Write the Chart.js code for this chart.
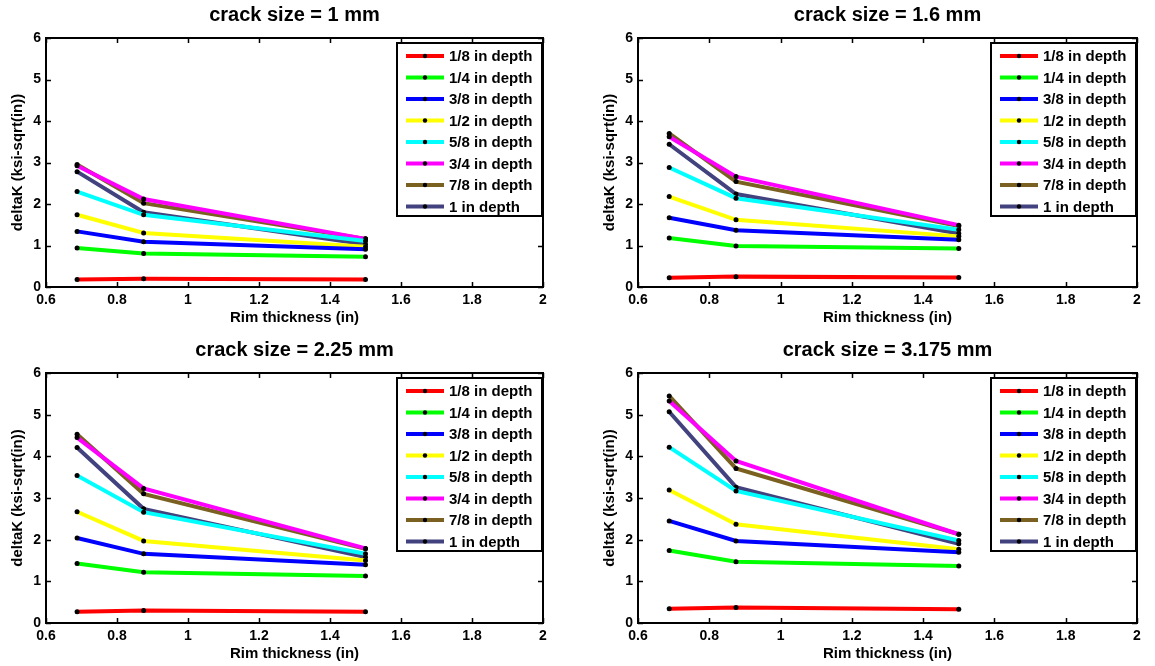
<!DOCTYPE html>
<html>
<head>
<meta charset="utf-8">
<script src="https://cdn.jsdelivr.net/npm/chart.js@4.4.0/dist/chart.umd.min.js"></script>
<style>
  html, body { margin: 0; padding: 0; background: #fff; }
  #wrap { position: relative; width: 1155px; height: 666px; }
  canvas { position: absolute; }
</style>
</head>
<body>
<div id="wrap">
  <canvas id="c1" width="577" height="333" style="left:0;top:0"></canvas>
  <canvas id="c2" width="578" height="333" style="left:577px;top:0"></canvas>
  <canvas id="c3" width="577" height="333" style="left:0;top:333px"></canvas>
  <canvas id="c4" width="578" height="333" style="left:577px;top:333px"></canvas>
</div>
<script>
// rim thickness (in)
const X = [0.6875, 0.875, 1.5];
const X_TICKS = [0.6, 0.8, 1, 1.2, 1.4, 1.6, 1.8, 2];
const Y_TICKS = [0, 1, 2, 3, 4, 5, 6];

const DEPTHS = ["1/8 in depth", "1/4 in depth", "3/8 in depth", "1/2 in depth",
                "5/8 in depth", "3/4 in depth", "7/8 in depth", "1 in depth"];
const COLORS = ["#ff0000", "#00ff00", "#0000ff", "#ffff00",
                "#00ffff", "#ff00ff", "#7b6121", "#42427e"];
const TITLES = ["crack size = 1 mm", "crack size = 1.6 mm",
                "crack size = 2.25 mm", "crack size = 3.175 mm"];

// deltaK per depth (rows follow DEPTHS), one array per crack size
const k1mm = [
  [0.18, 0.20, 0.18],
  [0.94, 0.81, 0.73],
  [1.34, 1.09, 0.91],
  [1.74, 1.30, 0.97],
  [2.30, 1.74, 1.11],
  [2.92, 2.12, 1.16],
  [2.95, 2.02, 1.16],
  [2.78, 1.80, 1.03]
];
const k16mm = [
  [0.22, 0.25, 0.23],
  [1.18, 0.99, 0.93],
  [1.67, 1.37, 1.14],
  [2.18, 1.62, 1.22],
  [2.88, 2.14, 1.38],
  [3.62, 2.66, 1.49],
  [3.70, 2.54, 1.47],
  [3.44, 2.24, 1.29]
];
const k225mm = [
  [0.27, 0.30, 0.27],
  [1.43, 1.22, 1.13],
  [2.04, 1.66, 1.40],
  [2.67, 1.97, 1.50],
  [3.54, 2.66, 1.66],
  [4.45, 3.23, 1.79],
  [4.53, 3.10, 1.78],
  [4.21, 2.74, 1.58]
];
const k3175mm = [
  [0.34, 0.37, 0.33],
  [1.74, 1.47, 1.37],
  [2.45, 1.97, 1.70],
  [3.19, 2.37, 1.77],
  [4.22, 3.17, 1.98],
  [5.33, 3.89, 2.13],
  [5.45, 3.71, 2.13],
  [5.07, 3.26, 1.90]
];

const FONT = "'Liberation Sans', Arial, Helvetica, sans-serif";

// box, inward ticks, titles and legend drawn MATLAB-style
const matlabPlugin = {
  id: "matlab",
  afterDraw(chart, args, opts) {
    const ctx = chart.ctx;
    const a = chart.chartArea;
    const xs = chart.scales.x, ys = chart.scales.y;
    ctx.save();
    ctx.strokeStyle = "#000";
    ctx.lineWidth = 1.5;
    X_TICKS.forEach(v => {
      const px = Math.round(xs.getPixelForValue(v)) + 0.5;
      ctx.beginPath();
      ctx.moveTo(px, a.bottom); ctx.lineTo(px, a.bottom - 5);
      ctx.moveTo(px, a.top); ctx.lineTo(px, a.top + 5);
      ctx.stroke();
    });
    Y_TICKS.forEach(v => {
      const py = Math.round(ys.getPixelForValue(v)) + 0.5;
      ctx.beginPath();
      ctx.moveTo(a.left, py); ctx.lineTo(a.left + 5, py);
      ctx.moveTo(a.right, py); ctx.lineTo(a.right - 5, py);
      ctx.stroke();
    });
    ctx.lineWidth = 2;
    ctx.strokeRect(a.left, a.top, a.right - a.left, a.bottom - a.top);

    // titles
    ctx.fillStyle = "#000";
    ctx.textAlign = "center";
    ctx.textBaseline = "middle";
    ctx.font = "bold 20px " + FONT;
    ctx.fillText(opts.title, (a.left + a.right) / 2, a.top - 23);
    ctx.font = "bold 15px " + FONT;
    ctx.fillText("Rim thickness (in)", (a.left + a.right) / 2, a.bottom + 31);
    ctx.save();
    ctx.translate(a.left - 28, (a.top + a.bottom) / 2);
    ctx.rotate(-Math.PI / 2);
    ctx.fillText("deltaK (ksi-sqrt(in))", 0, 0);
    ctx.restore();

    // legend
    const bw = 145, bh = 173, row = 21.5;
    const bx = a.right - 1 - bw, by = a.top + 5;
    ctx.fillStyle = "#fff";
    ctx.fillRect(bx, by, bw, bh);
    ctx.lineWidth = 2;
    ctx.strokeRect(bx, by, bw, bh);
    ctx.font = "bold 15px " + FONT;
    ctx.textAlign = "left";
    chart.data.datasets.forEach((ds, i) => {
      const cy = by + 13 + i * row;
      ctx.strokeStyle = ds.borderColor;
      ctx.lineWidth = 4;
      ctx.beginPath();
      ctx.moveTo(bx + 9, cy); ctx.lineTo(bx + 47, cy);
      ctx.stroke();
      ctx.fillStyle = "#000";
      ctx.beginPath();
      ctx.arc(bx + 28, cy, 2.2, 0, Math.PI * 2);
      ctx.fill();
      ctx.fillText(ds.label, bx + 52, cy + 1);
    });
    ctx.restore();
  }
};

const PANELS = [
  { id: "c1", data: k1mm,    title: TITLES[0], area: { l: 46, r: 543, t: 38, b: 287 } },
  { id: "c2", data: k16mm,   title: TITLES[1], area: { l: 61, r: 560, t: 38, b: 287 } },
  { id: "c3", data: k225mm,  title: TITLES[2], area: { l: 46, r: 543, t: 40, b: 290 } },
  { id: "c4", data: k3175mm, title: TITLES[3], area: { l: 61, r: 560, t: 40, b: 290 } }
];

PANELS.forEach(p => {
  const canvas = document.getElementById(p.id);
  const W = canvas.width, H = canvas.height;
  new Chart(canvas.getContext("2d"), {
    type: "line",
    data: {
      datasets: p.data.map((vals, i) => ({
        label: DEPTHS[i],
        data: X.map((x, j) => ({ x: x, y: vals[j] })),
        borderColor: COLORS[i],
        borderWidth: 4,
        pointRadius: 2.5,
        pointBackgroundColor: "#000",
        pointBorderWidth: 0,
        tension: 0,
        fill: false
      }))
    },
    options: {
      responsive: false,
      animation: false,
      events: [],
      layout: { padding: { top: p.area.t, right: W - p.area.r, left: 0, bottom: 0 } },
      plugins: {
        legend: { display: false },
        tooltip: { enabled: false },
        matlab: { title: p.title }
      },
      scales: {
        x: {
          type: "linear",
          min: 0.6, max: 2,
          grid: { display: false, drawTicks: false },
          border: { display: false },
          afterFit: s => { s.height = H - p.area.b; },
          afterBuildTicks: s => { s.ticks = X_TICKS.map(v => ({ value: v })); },
          ticks: {
            padding: 5,
            color: "#000",
            font: { family: FONT, size: 14, weight: "bold" },
            maxRotation: 0,
            callback: v => String(+v.toFixed(1))
          }
        },
        y: {
          min: 0, max: 6,
          grid: { display: false, drawTicks: false },
          border: { display: false },
          afterFit: s => { s.width = p.area.l; },
          afterBuildTicks: s => { s.ticks = Y_TICKS.map(v => ({ value: v })); },
          ticks: {
            padding: 5,
            color: "#000",
            font: { family: FONT, size: 14, weight: "bold" }
          }
        }
      }
    },
    plugins: [matlabPlugin]
  });
});
</script>
</body>
</html>
